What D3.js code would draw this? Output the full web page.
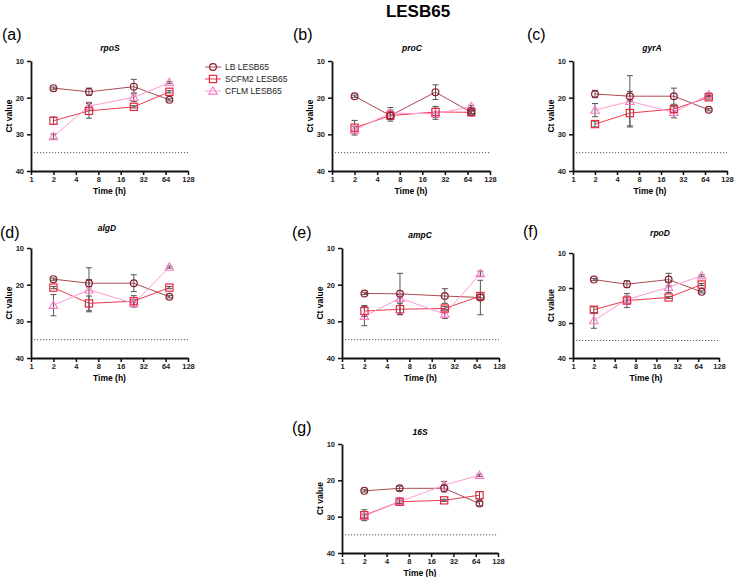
<!DOCTYPE html>
<html>
<head>
<meta charset="utf-8">
<script src="https://cdn.jsdelivr.net/npm/d3@7"></script>
<style>
  body { margin: 0; background: #fff; }
  svg { font-family: 'Liberation Sans', Arial, sans-serif; }
  .tick text { font-size: 7.5px; font-weight: bold; fill: #222; }
  .axis path, .axis line { stroke: #111; }
</style>
</head>
<body>
<svg width="735" height="577"></svg>
<script>
// sampling times (h) and axis ticks
const times = [2, 6, 24, 72];
const xTicks = [1, 2, 4, 8, 16, 32, 64, 128];
const yTicks = [10, 20, 30, 40];
const cutoff = 35;

const genes = ['rpoS', 'proC', 'gyrA', 'algD', 'ampC', 'rpoD', '16S'];
const letters = ['(a)', '(b)', '(c)', '(d)', '(e)', '(f)', '(g)'];
const seriesNames = ['LB LESB65', 'SCFM2 LESB65', 'CFLM LESB65'];

// Ct values, one row per gene (same order as genes), one value per time
const lbCt = [
  [17.4, 18.4, 17.0, 20.6],
  [19.6, 24.9, 18.5, 24.0],
  [19.0, 19.6, 19.6, 23.3],
  [18.5, 19.6, 19.6, 23.3],
  [22.4, 22.5, 23.1, 23.5],
  [17.6, 18.9, 17.6, 21.1],
  [22.9, 22.2, 22.2, 26.4]
];
const lbErr = [
  [0.3, 1.0, 2.0, 0.3],
  [0.3, 1.5, 2.0, 0.5],
  [1.0, 1.3, 2.2, 0.3],
  [0.3, 1.0, 2.3, 0.3],
  [0.3, 5.6, 2.0, 4.7],
  [0.3, 1.0, 1.8, 0.3],
  [0.3, 0.6, 1.0, 0.6]
];
const scfmCt = [
  [26.3, 23.6, 22.5, 18.4],
  [28.2, 24.9, 23.9, 24.0],
  [27.2, 24.2, 23.1, 19.9],
  [20.8, 25.1, 24.5, 20.8],
  [27.2, 26.7, 26.5, 23.1],
  [26.2, 23.6, 22.7, 19.0],
  [29.6, 25.9, 25.5, 24.1]
];
const scfmErr = [
  [1.0, 2.0, 0.3, 0.3],
  [2.0, 1.0, 1.5, 0.3],
  [0.8, 3.5, 1.0, 0.5],
  [0.3, 2.0, 1.5, 0.3],
  [1.5, 1.5, 0.5, 0.5],
  [0.8, 2.0, 0.3, 0.3],
  [1.5, 1.0, 0.3, 1.0]
];
const cflmCt = [
  [30.6, 22.3, 19.9, 15.9],
  [28.8, 24.2, 24.4, 22.4],
  [23.4, 21.0, 24.0, 19.2],
  [25.6, 21.4, 25.1, 15.2],
  [28.6, 23.7, 28.0, 17.0],
  [29.3, 23.3, 19.8, 16.5],
  [29.8, 25.9, 21.3, 18.6]
];
const cflmErr = [
  [0.7, 1.0, 1.2, 0.3],
  [1.0, 1.5, 1.5, 0.3],
  [1.8, 7.0, 1.5, 0.5],
  [2.9, 6.0, 1.0, 0.3],
  [2.6, 1.0, 1.2, 0.7],
  [2.2, 1.0, 1.5, 0.3],
  [0.5, 0.5, 1.0, 0.3]
];

// panel frames (plot area in px) and label spots
const panels = [
  { x0: 31,  x1: 188, y0: 61,  y1: 171, lx: 2,   ly: 40,  tx: 110, ty: 51 },
  { x0: 332, x1: 490, y0: 61,  y1: 171, lx: 293, ly: 40,  tx: 412, ty: 51 },
  { x0: 573, x1: 727, y0: 61,  y1: 171, lx: 527, ly: 40,  tx: 652, ty: 51 },
  { x0: 31,  x1: 188, y0: 248, y1: 358, lx: 0,   ly: 238, tx: 107, ty: 231 },
  { x0: 342, x1: 499, y0: 248, y1: 358, lx: 292, ly: 238, tx: 420, ty: 238 },
  { x0: 573, x1: 719, y0: 253, y1: 358, lx: 523, ly: 237, tx: 660, ty: 236 },
  { x0: 342, x1: 498, y0: 444, y1: 553, lx: 292, ly: 433, tx: 420, ty: 435 }
];

const styles = [
  { line: '#a84a52', stroke: '#8c1c2c', shape: 'circle' },
  { line: '#ec3a50', stroke: '#e8283f', shape: 'square' },
  { line: '#ff9ad2', stroke: '#ff78c4', shape: 'triangle' }
];

const svg = d3.select('svg');

// main title
svg.append('text')
  .attr('x', 418).attr('y', 17)
  .attr('text-anchor', 'middle')
  .attr('font-size', 17).attr('font-weight', 'bold')
  .text('LESB65');

function drawMarker(g, shape, cx, cy, stroke) {
  if (shape === 'circle') {
    g.append('circle').attr('cx', cx).attr('cy', cy).attr('r', 3.4)
      .attr('fill', 'none').attr('stroke', stroke).attr('stroke-width', 1.2);
  } else if (shape === 'square') {
    g.append('rect').attr('x', cx - 3.6).attr('y', cy - 3.6)
      .attr('width', 7.2).attr('height', 7.2)
      .attr('fill', 'none').attr('stroke', stroke).attr('stroke-width', 1.2);
  } else {
    const s = 4.2;
    g.append('path')
      .attr('d', `M${cx},${cy - s}L${cx + s},${cy + s * 0.75}L${cx - s},${cy + s * 0.75}Z`)
      .attr('fill', 'none').attr('stroke', stroke).attr('stroke-width', 1.1);
  }
}

genes.forEach((gene, i) => {
  const p = panels[i];
  const g = svg.append('g');

  const x = d3.scaleLog().base(2).domain([1, 128]).range([p.x0, p.x1]);
  const y = d3.scaleLinear().domain([10, 40]).range([p.y0, p.y1]);

  // letter + gene title
  g.append('text').attr('x', p.lx).attr('y', p.ly)
    .attr('font-size', 16).text(letters[i]);
  g.append('text').attr('x', p.tx).attr('y', p.ty)
    .attr('text-anchor', 'middle')
    .attr('font-size', 8.5).attr('font-weight', 'bold').attr('font-style', 'italic')
    .text(gene);

  // axes
  g.append('g').attr('class', 'axis')
    .attr('transform', `translate(0,${p.y1})`)
    .call(d3.axisBottom(x).tickValues(xTicks).tickFormat(d3.format('d')).tickSize(4).tickPadding(2).tickSizeOuter(0))
    .call(a => a.select('.domain').attr('stroke-width', 1.8))
    .call(a => a.selectAll('.tick line').attr('stroke-width', 1.5));
  g.append('g').attr('class', 'axis')
    .attr('transform', `translate(${p.x0},0)`)
    .call(d3.axisLeft(y).tickValues(yTicks).tickSize(4).tickSizeOuter(0))
    .call(a => a.select('.domain').attr('stroke-width', 1.8))
    .call(a => a.selectAll('.tick line').attr('stroke-width', 1.5));

  g.append('text')
    .attr('transform', `translate(${p.x0 - 19},${(p.y0 + p.y1) / 2}) rotate(-90)`)
    .attr('text-anchor', 'middle')
    .attr('font-size', 8.5).attr('font-weight', 'bold')
    .text('Ct value');
  g.append('text')
    .attr('x', (p.x0 + p.x1) / 2).attr('y', p.y1 + 23)
    .attr('text-anchor', 'middle')
    .attr('font-size', 8.5).attr('font-weight', 'bold')
    .text('Time (h)');

  // detection cutoff
  g.append('line')
    .attr('x1', p.x0 + 3).attr('x2', x(128))
    .attr('y1', y(cutoff)).attr('y2', y(cutoff))
    .attr('stroke', '#555').attr('stroke-width', 1)
    .attr('stroke-dasharray', '1.2,1.8');

  const series = [
    [lbCt[i], lbErr[i]],
    [scfmCt[i], scfmErr[i]],
    [cflmCt[i], cflmErr[i]]
  ];

  // lines first
  series.forEach(([vals], s) => {
    const pts = times.map((t, k) => [t, vals[k]]);
    g.append('path')
      .datum(pts)
      .attr('fill', 'none')
      .attr('stroke', styles[s].line)
      .attr('stroke-width', 1)
      .attr('d', d3.line().x(d => x(d[0])).y(d => y(d[1])));
  });

  // error bars
  series.forEach(([vals, errs]) => {
    times.forEach((t, k) => {
      const cx = x(t), lo = y(vals[k] - errs[k]), hi = y(vals[k] + errs[k]);
      g.append('line').attr('x1', cx).attr('x2', cx).attr('y1', lo).attr('y2', hi)
        .attr('stroke', '#555').attr('stroke-width', 1);
      [lo, hi].forEach(yy => g.append('line')
        .attr('x1', cx - 3).attr('x2', cx + 3).attr('y1', yy).attr('y2', yy)
        .attr('stroke', '#555').attr('stroke-width', 1));
    });
  });

  // markers, CFLM at the back
  [2, 1, 0].forEach(s => {
    const vals = series[s][0];
    times.forEach((t, k) => drawMarker(g, styles[s].shape, x(t), y(vals[k]), styles[s].stroke));
  });
});

// legend
const legend = svg.append('g');
seriesNames.forEach((name, s) => {
  const ly = 67 + s * 12;
  legend.append('line').attr('x1', 205).attr('x2', 221).attr('y1', ly).attr('y2', ly)
    .attr('stroke', styles[s].line).attr('stroke-width', 1);
  drawMarker(legend, styles[s].shape, 213, ly, styles[s].stroke);
  legend.append('text').attr('x', 225).attr('y', ly + 3)
    .attr('font-size', 8.5).attr('fill', '#222').text(name);
});
</script>
</body>
</html>
